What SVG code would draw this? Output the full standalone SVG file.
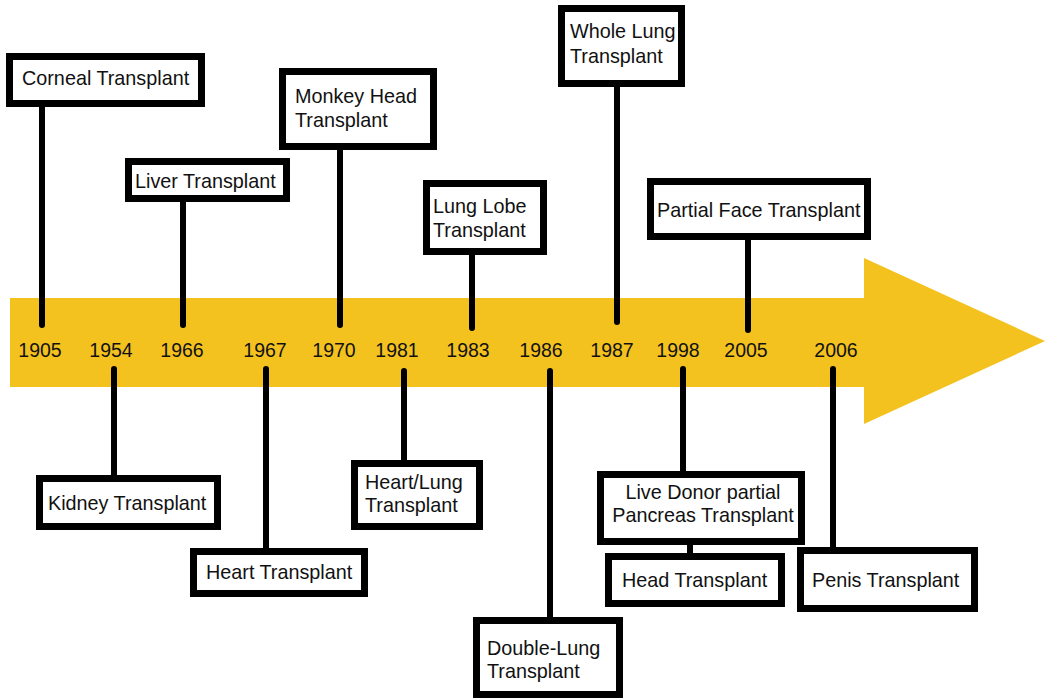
<svg xmlns="http://www.w3.org/2000/svg" width="1051" height="698" viewBox="0 0 1051 698">
<style>
.box{fill:#fff;stroke:#000;stroke-width:7}
.t{font-family:"Liberation Sans",Arial,sans-serif;font-size:19.8px;fill:#111}
.y{font-family:"Liberation Sans",Arial,sans-serif;font-size:19.5px;fill:#111;text-anchor:middle}
.c line{stroke:#000;stroke-width:6;stroke-linecap:round}
</style>
<rect width="1051" height="698" fill="#fff"/>
<g id="arrow">
<path d="M10 298 H864 V258 L1045 341 L864 424 V387 H10 Z" fill="#F4C21F"/>
</g>
<g id="years">
<text class="y" x="40" y="357">1905</text>
<text class="y" x="111" y="357">1954</text>
<text class="y" x="182" y="357">1966</text>
<text class="y" x="265" y="357">1967</text>
<text class="y" x="334" y="357">1970</text>
<text class="y" x="397" y="357">1981</text>
<text class="y" x="468" y="357">1983</text>
<text class="y" x="541" y="357">1986</text>
<text class="y" x="612" y="357">1987</text>
<text class="y" x="678" y="357">1998</text>
<text class="y" x="746" y="357">2005</text>
<text class="y" x="836" y="357">2006</text>
</g>
<g class="c" id="connectors">
<line x1="42" y1="105" x2="42" y2="325"/>
<line x1="183" y1="200" x2="183" y2="325"/>
<line x1="340" y1="148" x2="340" y2="325"/>
<line x1="472" y1="253" x2="472" y2="328"/>
<line x1="617" y1="85" x2="617" y2="322"/>
<line x1="748" y1="238" x2="748" y2="330"/>
<line x1="114" y1="369" x2="114" y2="476"/>
<line x1="266" y1="369" x2="266" y2="549"/>
<line x1="404" y1="371" x2="404" y2="461"/>
<line x1="550" y1="371" x2="550" y2="618"/>
<line x1="683" y1="369" x2="683" y2="472"/>
<line x1="833" y1="369" x2="833" y2="548"/>
<line x1="690" y1="543" x2="690" y2="554" style="stroke-linecap:butt"/>
</g>
<g id="corneal"><rect class="box" x="9.5" y="56.5" width="192" height="47"/><text class="t" x="22" y="85">Corneal Transplant</text></g>
<g id="liver"><rect class="box" x="128.5" y="161.5" width="158" height="37"/><text class="t" x="135" y="188">Liver Transplant</text></g>
<g id="monkey"><rect class="box" x="282.5" y="71.5" width="151" height="75"/><text class="t" x="295" y="103">Monkey Head</text><text class="t" x="295" y="127">Transplant</text></g>
<g id="lunglobe"><rect class="box" x="426.5" y="183.5" width="117" height="68"/><text class="t" x="433" y="213">Lung Lobe</text><text class="t" x="433" y="237">Transplant</text></g>
<g id="wholelung"><rect class="box" x="561.5" y="8.5" width="120" height="75"/><text class="t" x="570" y="38">Whole Lung</text><text class="t" x="570" y="63">Transplant</text></g>
<g id="face"><rect class="box" x="650.5" y="181.5" width="217" height="55"/><text class="t" x="657" y="217">Partial Face Transplant</text></g>
<g id="kidney"><rect class="box" x="39.5" y="478.5" width="178" height="48"/><text class="t" x="48" y="510">Kidney Transplant</text></g>
<g id="heart"><rect class="box" x="193.5" y="551.5" width="171" height="42"/><text class="t" x="206" y="579">Heart Transplant</text></g>
<g id="heartlung"><rect class="box" x="354.5" y="463.5" width="125" height="63"/><text class="t" x="365" y="489">Heart/Lung</text><text class="t" x="365" y="512">Transplant</text></g>
<g id="doublelung"><rect class="box" x="476.5" y="620.5" width="143" height="74"/><text class="t" x="487" y="655">Double-Lung</text><text class="t" x="487" y="678">Transplant</text></g>
<g id="livedonor"><rect class="box" x="600.5" y="474.5" width="201" height="67"/><text class="t" x="703" y="499" text-anchor="middle">Live Donor partial</text><text class="t" x="703" y="522" text-anchor="middle">Pancreas Transplant</text></g>
<g id="head"><rect class="box" x="608.5" y="556.5" width="173" height="47"/><text class="t" x="622" y="587">Head Transplant</text></g>
<g id="penis"><rect class="box" x="800.5" y="550.5" width="174" height="58"/><text class="t" x="812" y="587">Penis Transplant</text></g>
</svg>
